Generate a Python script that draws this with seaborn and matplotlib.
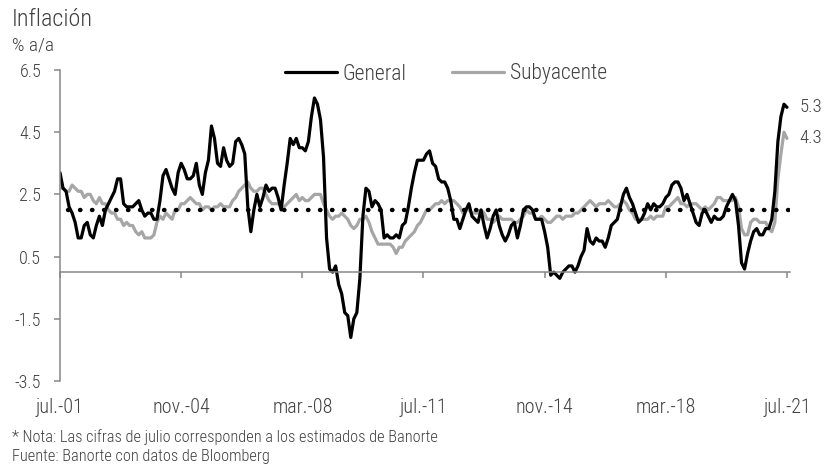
import numpy as np
import pandas as pd
import matplotlib
matplotlib.use("Agg")
import matplotlib.pyplot as plt
from matplotlib.lines import Line2D
from matplotlib import font_manager as fm
import seaborn as sns

# ---- data (monthly, jul-01 .. jul-21, % a/a) ----
general = [
    3.2, 2.7, 2.6, 2.1, 1.9, 1.6,
    1.1, 1.1, 1.5, 1.6, 1.2, 1.1, 1.5, 1.8, 1.5, 2.0, 2.2, 2.4,
    2.6, 3.0, 3.0, 2.2, 2.1, 2.1, 2.1, 2.2, 2.3, 2.0, 1.8, 1.9,
    1.9, 1.7, 1.7, 2.3, 3.1, 3.3, 3.0, 2.7, 2.5, 3.2, 3.5, 3.3,
    3.0, 3.0, 3.1, 3.5, 2.8, 2.5, 3.2, 3.6, 4.7, 4.3, 3.5, 3.4,
    4.0, 3.6, 3.4, 3.5, 4.2, 4.3, 4.1, 3.8, 2.1, 1.3, 2.0, 2.5,
    2.1, 2.4, 2.8, 2.6, 2.7, 2.7, 2.4, 2.0, 2.8, 3.5, 4.3, 4.1,
    4.3, 4.0, 4.0, 3.9, 4.2, 5.0, 5.6, 5.4, 4.9, 3.7, 1.1, 0.1,
    0.0, 0.2, -0.4, -0.7, -1.3, -1.4, -2.1, -1.5, -1.3, -0.2, 1.8, 2.7,
    2.6, 2.1, 2.3, 2.2, 2.0, 1.1, 1.2, 1.1, 1.1, 1.2, 1.1, 1.5,
    1.6, 2.1, 2.7, 3.2, 3.6, 3.6, 3.6, 3.8, 3.9, 3.5, 3.4, 3.0,
    2.9, 2.9, 2.7, 2.3, 1.7, 1.7, 1.4, 1.7, 2.0, 2.2, 1.8, 1.7,
    1.6, 2.0, 1.5, 1.1, 1.4, 1.8, 2.0, 1.5, 1.2, 1.0, 1.2, 1.5,
    1.6, 1.1, 1.5, 2.0, 2.1, 2.1, 2.0, 1.7, 1.7, 1.7, 1.3, 0.8,
    -0.1, 0.0, -0.1, -0.2, 0.0, 0.1, 0.2, 0.2, 0.0, 0.2, 0.5, 0.7,
    1.4, 1.0, 0.9, 1.1, 1.0, 1.0, 0.8, 1.1, 1.5, 1.6, 1.7, 2.1,
    2.5, 2.7, 2.4, 2.2, 1.9, 1.6, 1.7, 1.9, 2.2, 2.0, 2.2, 2.1,
    2.1, 2.2, 2.4, 2.5, 2.8, 2.9, 2.9, 2.7, 2.3, 2.5, 2.2, 1.9,
    1.6, 1.5, 1.9, 2.0, 1.8, 1.6, 1.8, 1.7, 1.7, 1.8, 2.1, 2.3,
    2.5, 2.3, 1.5, 0.3, 0.1, 0.6, 1.0, 1.3, 1.4, 1.2, 1.2, 1.4,
    1.4, 1.7, 2.6, 4.2, 5.0, 5.4, 5.3,
]
subyacente = [
    2.7, 2.7, 2.6, 2.6, 2.8, 2.7,
    2.6, 2.6, 2.4, 2.5, 2.5, 2.3, 2.2, 2.4, 2.2, 2.2, 2.0, 1.9,
    1.9, 1.7, 1.7, 1.5, 1.6, 1.5, 1.5, 1.3, 1.2, 1.3, 1.1, 1.1,
    1.1, 1.2, 1.6, 1.8, 1.7, 1.9, 1.8, 1.7, 2.0, 2.0, 2.2, 2.2,
    2.3, 2.4, 2.3, 2.2, 2.2, 2.0, 2.1, 2.1, 2.0, 2.1, 2.1, 2.2,
    2.1, 2.1, 2.1, 2.3, 2.4, 2.6, 2.7, 2.8, 2.9, 2.7, 2.6, 2.6,
    2.7, 2.7, 2.5, 2.3, 2.2, 2.2, 2.2, 2.1, 2.1, 2.2, 2.3, 2.4,
    2.5, 2.3, 2.4, 2.3, 2.3, 2.4, 2.5, 2.5, 2.5, 2.2, 2.0, 1.8,
    1.7, 1.8, 1.8, 1.9, 1.8, 1.7, 1.5, 1.4, 1.5, 1.7, 1.7, 1.8,
    1.6, 1.3, 1.1, 0.9, 0.9, 0.9, 0.9, 0.9, 0.8, 0.6, 0.8, 0.8,
    1.0, 1.1, 1.2, 1.3, 1.5, 1.6, 1.8, 2.0, 2.0, 2.1, 2.2, 2.2,
    2.3, 2.2, 2.3, 2.3, 2.3, 2.2, 2.1, 1.9, 2.0, 2.0, 1.9, 1.9,
    1.9, 2.0, 1.9, 1.7, 1.7, 1.6, 1.7, 1.8, 1.7, 1.7, 1.7, 1.7,
    1.6, 1.6, 1.7, 1.8, 2.0, 1.9, 1.9, 1.7, 1.7, 1.8, 1.7, 1.6,
    1.6, 1.7, 1.8, 1.8, 1.7, 1.8, 1.8, 1.8, 1.9, 1.9, 2.0, 2.1,
    2.2, 2.3, 2.2, 2.1, 2.2, 2.2, 2.2, 2.3, 2.2, 2.1, 2.1, 2.2,
    2.3, 2.2, 2.0, 1.9, 1.7, 1.7, 1.7, 1.7, 1.7, 1.8, 1.7, 1.8,
    1.8, 1.8, 2.1, 2.1, 2.2, 2.3, 2.4, 2.2, 2.2, 2.1, 2.2, 2.2,
    2.2, 2.1, 2.0, 2.1, 2.0, 2.1, 2.2, 2.4, 2.4, 2.3, 2.3, 2.3,
    2.3, 2.4, 2.1, 1.4, 1.2, 1.2, 1.6, 1.7, 1.7, 1.6, 1.6, 1.6,
    1.4, 1.3, 1.6, 3.0, 3.8, 4.5, 4.3,
]
tick_months = [0, 40, 80, 120, 160, 200, 240]
tick_labels = ["jul.-01", "nov.-04", "mar.-08", "jul.-11", "nov.-14", "mar.-18", "jul.-21"]
y_ticks = [-3.5, -1.5, 0.5, 2.5, 4.5, 6.5]
meta = 2.0

# ---- style ----
sns.set_style("white")
avail = {f.name for f in fm.fontManager.ttflist}
family = next((c for c in ["Liberation Sans Narrow", "Roboto Condensed", "Roboto"]
               if c in avail), "DejaVu Sans")
plt.rcParams["font.family"] = [family, "DejaVu Sans"]
plt.rcParams["font.weight"] = "light"
TXT = "#404040"
AX = "#888888"
GRAY = "#A6A6A6"

n = len(general)
df = pd.DataFrame({"mes": np.arange(n), "General": general, "Subyacente": subyacente})
long = df.melt(id_vars="mes", var_name="serie", value_name="valor")

fig = plt.figure(figsize=(8.25, 4.67), dpi=100)
ax = fig.add_axes([60 / 825, 1 - 381 / 467, 730 / 825, 311 / 467])

sns.lineplot(data=long, x="mes", y="valor", hue="serie",
             hue_order=["Subyacente", "General"],
             palette={"General": "black", "Subyacente": GRAY},
             linewidth=2.3, legend=False, ax=ax, zorder=2)

ax.axhline(meta, color="black", lw=3.2, ls=(0.9, (0.1, 2.6)),
           dash_capstyle="round", zorder=3)

ax.set_xlim(0, n)
ax.set_ylim(y_ticks[0], y_ticks[-1])
ax.set_xlabel("")
ax.set_ylabel("")

# spines
for s in ["top", "right"]:
    ax.spines[s].set_visible(False)
ax.spines["left"].set_color(AX)
ax.spines["left"].set_linewidth(1.1)
ax.spines["bottom"].set_position(("data", 0))
ax.spines["bottom"].set_color(AX)
ax.spines["bottom"].set_linewidth(1.1)

ax.set_yticks(y_ticks)
ax.set_yticklabels([f"{v:.1f}" for v in y_ticks])
ax.tick_params(axis="y", direction="out", length=4.5, width=1.1, color=AX,
               labelcolor=TXT, labelsize=13, pad=9, left=True)
ax.set_xticks(tick_months)
ax.tick_params(axis="x", direction="out", length=4.5, width=1.1, color=AX,
               labelbottom=False, bottom=True)

sec = ax.secondary_xaxis("bottom")
sec.set_xticks(tick_months)
sec.set_xticklabels(tick_labels)
sec.spines["bottom"].set_visible(False)
sec.tick_params(axis="x", length=0, pad=12, labelsize=14.5, labelcolor=TXT)

# end labels
ax.annotate(f"{general[-1]:.1f}", xy=(n - 1, general[-1]), xytext=(9, 0),
            textcoords="offset points", va="center", ha="left",
            fontsize=13.5, color=TXT)
ax.annotate(f"{subyacente[-1]:.1f}", xy=(n - 1, subyacente[-1]), xytext=(9, 0),
            textcoords="offset points", va="center", ha="left",
            fontsize=13.5, color=TXT)

# legend
handles = [Line2D([], [], color="black", lw=2.3),
           Line2D([], [], color=GRAY, lw=2.3)]
leg = fig.legend(handles, ["General", "Subyacente"], loc="center",
                 bbox_to_anchor=(446 / 825, 1 - 74 / 467), ncol=2, frameon=False,
                 fontsize=15.5, handlelength=2.42, handletextpad=0.25,
                 columnspacing=2.1)
for t in leg.get_texts():
    t.set_color(TXT)

# titles & notes
fig.text(12 / 825, 1 - 20 / 467, "Inflación", fontsize=17.5, color=TXT,
         va="center", ha="left")
fig.text(12 / 825, 1 - 46 / 467, "% a/a", fontsize=14, color=TXT,
         va="center", ha="left")
fig.text(12 / 825, 1 - 437 / 467,
         "* Nota: Las cifras de julio corresponden a los estimados de Banorte",
         fontsize=11.8, color=TXT, va="center", ha="left")
fig.text(12 / 825, 1 - 456 / 467, "Fuente: Banorte con datos de Bloomberg",
         fontsize=11.8, color=TXT, va="center", ha="left")

fig.savefig("out.png", dpi=100)
